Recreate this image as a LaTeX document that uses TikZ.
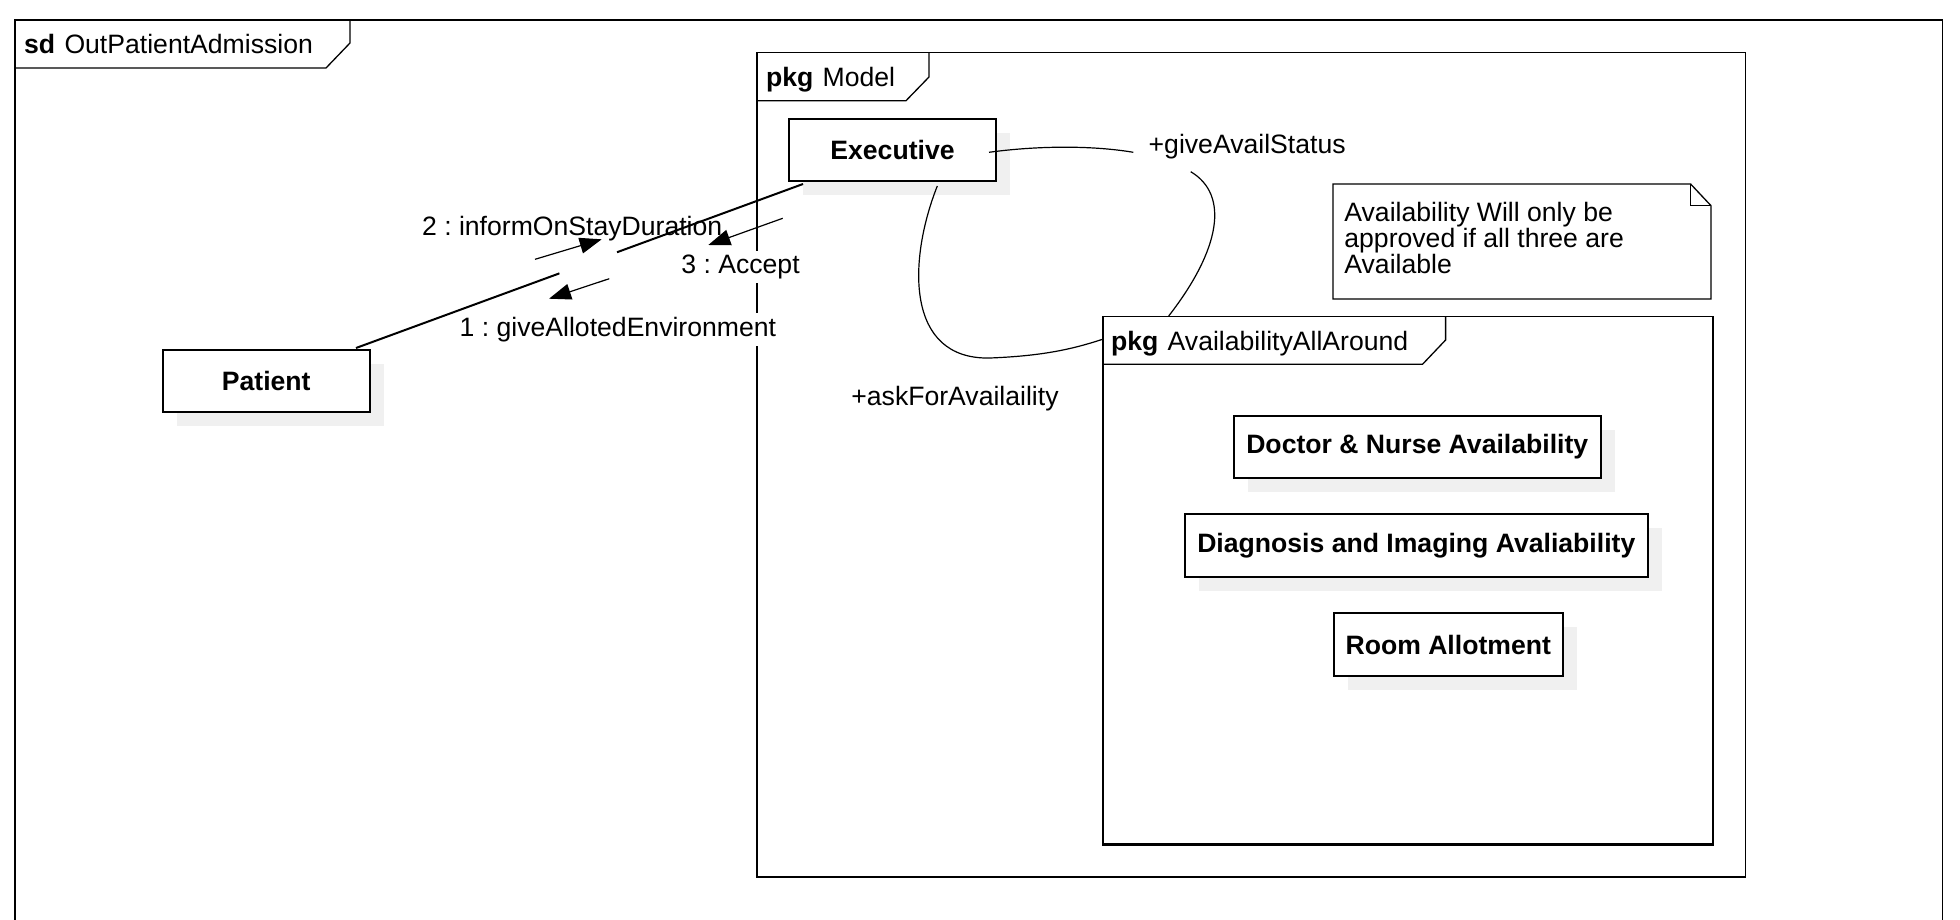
\documentclass[tikz,border=0pt]{standalone}
\usepackage{fontspec}
\setmainfont{Liberation Sans}
\usetikzlibrary{arrows.meta,shadows,calc}
\newcommand{\labfont}{\fontsize{13.3}{13}\selectfont}
\frenchspacing

\begin{document}
\begin{tikzpicture}[x=0.5pt,y=-0.5pt,
  frame/.style={line width=0.65pt},
  obj/.style={draw, line width=1pt, fill=white, font=\labfont\bfseries, inner sep=0pt,
     drop shadow={shadow xshift=7pt, shadow yshift=-7pt, fill=black!6, opacity=1}},
  lbl/.style={font=\labfont, inner sep=0pt, anchor=base west},
  wlbl/.style={lbl, fill=white, inner sep=2pt},
  assoc/.style={line width=1pt},
  link/.style={line width=0.6pt},
  msg/.style={line width=0.6pt, -{Triangle[length=11pt,width=8pt]}}
]
\useasboundingbox (0,0) rectangle (1960,920);
\fill[white] (0,0) rectangle (1960,920);

% outer frame (sd)
\draw[frame] (15,930) -- (15,20) -- (1942.5,20) -- (1942.5,930);
\draw[frame] (15,68) -- (326,68) -- (350,43) -- (350,20);
\node[lbl] (sdt) at (23.75,53.5) {\textbf{sd}\hspace{0.35em}OutPatientAdmission};

% package Model
\node[draw, frame, minimum width=494.3pt, minimum height=412pt, inner sep=0pt] (model) at (1251.3,464.7) {};
\draw[line width=1.1pt] (model.south west) -- (model.south east);
\draw[frame] (757,100.7) -- (906,100.7) -- (929,77) -- (929,52.7);
\node[lbl] (modelt) at (765.6,86.8) {\textbf{pkg}\hspace{0.35em}Model};

% package AvailabilityAllAround
\node[draw, frame, minimum width=305pt, minimum height=263.65pt, inner sep=0pt] (avail) at (1408,580.35) {};
\draw[line width=1.1pt] (avail.south west) -- (avail.south east);
\draw[frame] (1103,364.3) -- (1422.5,364.3) -- (1445.6,340) -- (1445.6,316.7);
\node[lbl] (availt) at (1110.7,350.3) {\textbf{pkg}\hspace{0.35em}AvailabilityAllAround};

% note
\draw[frame, fill=white] (1333,184) -- (1690.6,184) -- (1711,205.7) -- (1711,299) -- (1333,299) -- cycle;
\draw[frame] (1690.6,184) -- (1690.6,205.7) -- (1711,205.7);
\node[anchor=north west, inner sep=0pt, align=left, font=\labfont] (note) at (1344,202)
  {Availability Will only be\\approved if all three are\\Available};

% objects
\node[obj, minimum width=103.5pt, minimum height=31pt] (exe) at (892.5,150) {Executive};
\node[obj, minimum width=103.75pt, minimum height=31pt] (pat) at (266.25,381) {Patient};
\node[obj, minimum width=183.25pt, minimum height=30.85pt] (doc) at (1417.25,446.85) {Doctor \& Nurse Availability};
\node[obj, minimum width=231.25pt, minimum height=31.5pt] (diag) at (1416.25,545.5) {Diagnosis and Imaging Avaliability};
\node[obj, minimum width=114.25pt, minimum height=31.5pt] (room) at (1448.25,644.5) {Room Allotment};

% labels
\node[lbl] (m2l) at (421.7,235) {2 : informOnStayDuration};
\node[wlbl] (m3l) at (677,273.3) {3 : Accept};
\node[wlbl] (m1l) at (455.3,336.7) {1 : giveAllotedEnvironment};
\node[lbl] (askl) at (851,405) {+askForAvailaility};
\node[lbl] (gasl) at (1148.3,153.3) {+giveAvailStatus};

% association Patient - Executive
\coordinate (pa) at ($(pat.north east)+(-15,-1)$);
\coordinate (ea) at ($(exe.south west)+(15,2)$);
\draw[assoc] (pa) -- ($(pa)!0.455!(ea)$);
\draw[assoc] ($(pa)!0.584!(ea)$) -- (ea);

% messages
\coordinate (m2a) at (535,259.3);   \coordinate (m2b) at (601.7,239.3);
\coordinate (m3a) at (782.7,218.3); \coordinate (m3b) at (708.3,245);
\coordinate (m1a) at (609.3,278.7); \coordinate (m1b) at (549,298.7);
\draw[msg] (m2a) -- (m2b);
\draw[msg] (m3a) -- (m3b);
\draw[msg] (m1a) -- (m1b);

% links Executive - AvailabilityAllAround
\draw[link] ($(exe.east)+(-8,2.3)$) .. controls (1035,146) and (1090,145) .. ($(gasl.base west)+(-15,-1)$);
\draw[link] ($(gasl.base west)+(42.4,18.4)$) .. controls (1230,195) and (1220,250) .. ($(avail.north west)+(66.3,0)$);
\draw[link] ($(exe.south west)+(149.3,4)$) .. controls (908,260) and (905,360) .. (990,358)
  .. controls (1040,356) and (1070,350) .. ($(avail.north west)+(0,23.3)$);
\end{tikzpicture}
\end{document}
